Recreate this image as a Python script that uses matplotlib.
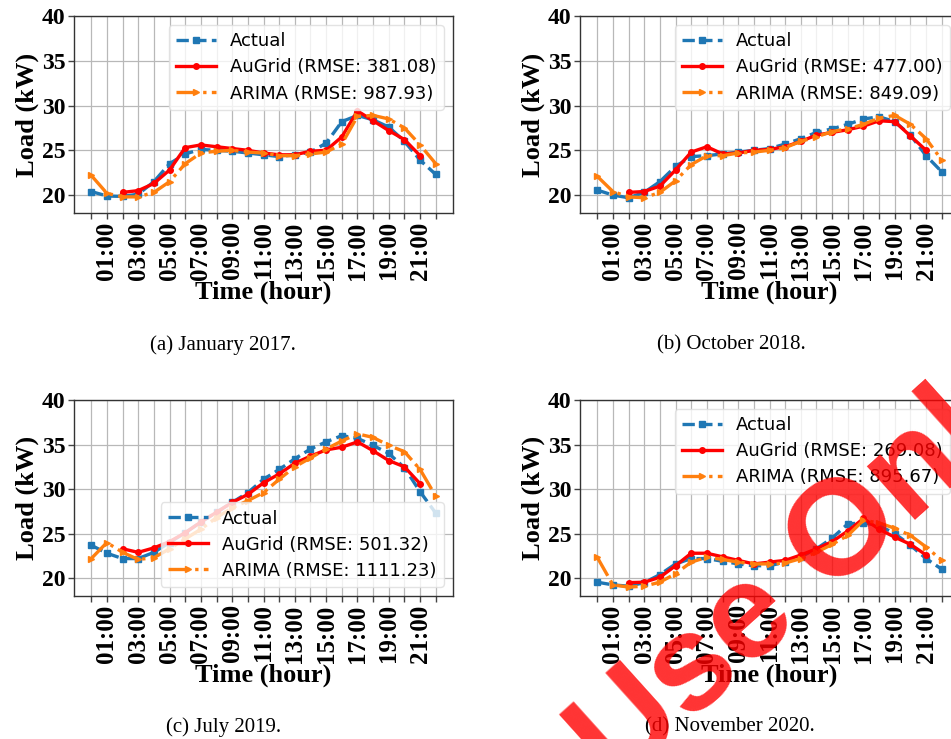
import matplotlib
matplotlib.use("Agg")
import matplotlib.pyplot as plt
import numpy as np

hours = list(range(23))
tick_labels = [f"{h:02d}:00" if h % 2 == 1 else "" for h in hours]

captions = ["(a) January 2017.", "(b) October 2018.", "(c) July 2019.", "(d) November 2020."]
augrid_rmse = [381.08, 477.00, 501.32, 269.08]
arima_rmse = [987.93, 849.09, 1111.23, 895.67]

# (a) January 2017
actual_a = [20.4, 19.9, 19.85, 20.1, 21.5, 23.5, 24.6, 25.1, 25.0, 24.9, 24.7, 24.5,
            24.3, 24.5, 24.8, 25.8, 28.2, 28.9, 28.4, 27.6, 26.0, 23.9, 22.3]
augrid_a = [20.3, 20.5, 21.3, 22.8, 25.3, 25.6, 25.4, 25.2, 25.0, 24.7, 24.5, 24.5,
            24.9, 25.0, 26.5, 29.4, 28.3, 27.2, 26.2, 24.4]
arima_a = [22.2, 20.2, 19.8, 19.8, 20.3, 21.5, 23.5, 24.7, 24.9, 25.0, 24.8, 24.7,
           24.4, 24.4, 24.6, 24.8, 25.7, 28.8, 28.9, 28.5, 27.5, 25.6, 23.5]

# (b) October 2018
actual_b = [20.56, 20.0, 19.7, 20.3, 21.5, 23.2, 24.3, 24.4, 24.6, 24.8, 25.0, 25.2,
            25.7, 26.3, 27.0, 27.4, 27.9, 28.5, 28.75, 28.2, 26.7, 24.4, 22.6]
augrid_b = [20.3, 20.4, 21.0, 22.8, 24.8, 25.4, 24.6, 24.7, 25.0, 25.1, 25.4, 26.0,
            26.7, 27.0, 27.3, 27.7, 28.3, 28.2, 26.6, 25.0]
arima_b = [22.1, 20.4, 19.8, 19.7, 20.3, 21.6, 23.4, 24.4, 24.4, 24.7, 24.8, 25.0,
           25.3, 26.0, 26.5, 27.1, 27.4, 27.9, 28.6, 28.9, 27.9, 26.3, 23.9]

# (c) July 2019
actual_c = [23.7, 22.8, 22.2, 22.2, 22.9, 24.0, 25.1, 26.3, 27.4, 28.5, 29.6, 31.1,
            32.2, 33.4, 34.5, 35.3, 36.0, 35.7, 34.9, 34.0, 32.4, 29.7, 27.3]
augrid_c = [23.3, 22.9, 23.4, 24.1, 25.1, 26.3, 27.4, 28.5, 29.4, 30.7, 31.7, 32.9,
            33.7, 34.4, 34.7, 35.3, 34.3, 33.2, 32.5, 30.6]
arima_c = [22.2, 24.0, 22.9, 22.1, 22.3, 23.3, 24.4, 25.5, 26.8, 27.9, 28.7, 29.6,
           31.1, 32.5, 33.5, 34.5, 35.4, 36.2, 35.8, 34.9, 34.2, 32.2, 29.2]

# (d) November 2020
actual_d = [19.55, 19.25, 19.1, 19.5, 20.4, 21.6, 22.2, 22.2, 21.9, 21.6, 21.4, 21.4,
            21.8, 22.4, 23.3, 24.5, 26.1, 26.2, 25.9, 25.0, 23.7, 22.2, 21.0]
augrid_d = [19.5, 19.55, 20.1, 21.4, 22.8, 22.8, 22.4, 22.0, 21.6, 21.8, 22.0, 22.6,
            23.3, 24.1, 25.3, 26.7, 25.5, 24.6, 23.8, 22.6]
arima_d = [22.35, 19.25, 19.0, 19.1, 19.55, 20.5, 21.8, 22.35, 22.1, 21.8, 21.6, 21.6,
           21.7, 22.2, 22.9, 23.8, 24.8, 26.5, 26.2, 25.6, 24.8, 23.5, 22.0]

actuals = [actual_a, actual_b, actual_c, actual_d]
augrids = [augrid_a, augrid_b, augrid_c, augrid_d]
arimas = [arima_a, arima_b, arima_c, arima_d]
legend_locs = ["upper right", "upper right", "lower right", "upper right"]

W, H = 951, 739
fig = plt.figure(figsize=(W / 100, H / 100), dpi=100)

# axes boxes in pixels: left, top, width, height
boxes = [(74, 16, 379, 197), (580, 16, 379, 197), (74, 400, 379, 196), (580, 400, 379, 196)]
cap_pos = [(223, 345), (731, 345), (224, 727), (730, 727)]

serif = "Liberation Serif"
for k in range(4):
    l, t, w, h = boxes[k]
    ax = fig.add_axes([l / W, 1 - (t + h) / H, w / W, h / H])
    aug_x = hours[2:22]
    ax.plot(hours, actuals[k], linestyle="--", marker="s", color="#1f77b4", lw=2.4,
            markersize=5, label="Actual")
    ax.plot(aug_x, augrids[k], linestyle="-", marker="o", color="#ff0000", lw=2.4,
            markersize=4, label=f"AuGrid (RMSE: {augrid_rmse[k]:.2f})")
    ax.plot(hours, arimas[k], linestyle="-.", marker=">", color="#ff7f0e", lw=2.4,
            markersize=5, label=f"ARIMA (RMSE: {arima_rmse[k]:.2f})")
    ax.set_ylim(18, 40)
    ax.set_xlim(-1.1, 23.1)
    ax.set_yticks([20, 25, 30, 35, 40])
    ax.set_xticks(hours)
    ax.set_xticklabels(tick_labels, rotation=90, fontfamily=serif, fontweight="bold", fontsize=18)
    for lab in ax.get_yticklabels():
        lab.set_fontfamily(serif)
        lab.set_fontweight("bold")
        lab.set_fontsize(17)
    ax.tick_params(axis="both", direction="out", length=4, width=1, color="#444444", pad=2)
    ax.grid(True, color="#b8b8b8", lw=0.9)
    ax.set_axisbelow(True)
    for sp in ax.spines.values():
        sp.set_color("#333333")
        sp.set_linewidth(1.0)
    ax.set_xlabel("Time (hour)", fontfamily=serif, fontweight="bold", fontsize=19, labelpad=1)
    ax.set_ylabel("Load (kW)", fontfamily=serif, fontweight="bold", fontsize=19, labelpad=2)
    leg = ax.legend(loc=legend_locs[k], prop={"family": "DejaVu Sans", "size": 13},
                    labelspacing=0.45, handlelength=2.2, framealpha=0.8, fancybox=True)
    leg.get_frame().set_edgecolor("#dddddd")
    cx, cy = cap_pos[k]
    fig.text(cx / W, 1 - cy / H, captions[k], ha="center", va="center",
             fontfamily=serif, fontsize=15)

fig.text(812 / W, 1 - 566 / H, "Use Only", ha="center", va="center", rotation=42,
         rotation_mode="anchor", color="#ff0000", alpha=0.8, fontsize=98,
         fontweight="bold", family="Liberation Sans")

fig.savefig("out.png", dpi=100)
